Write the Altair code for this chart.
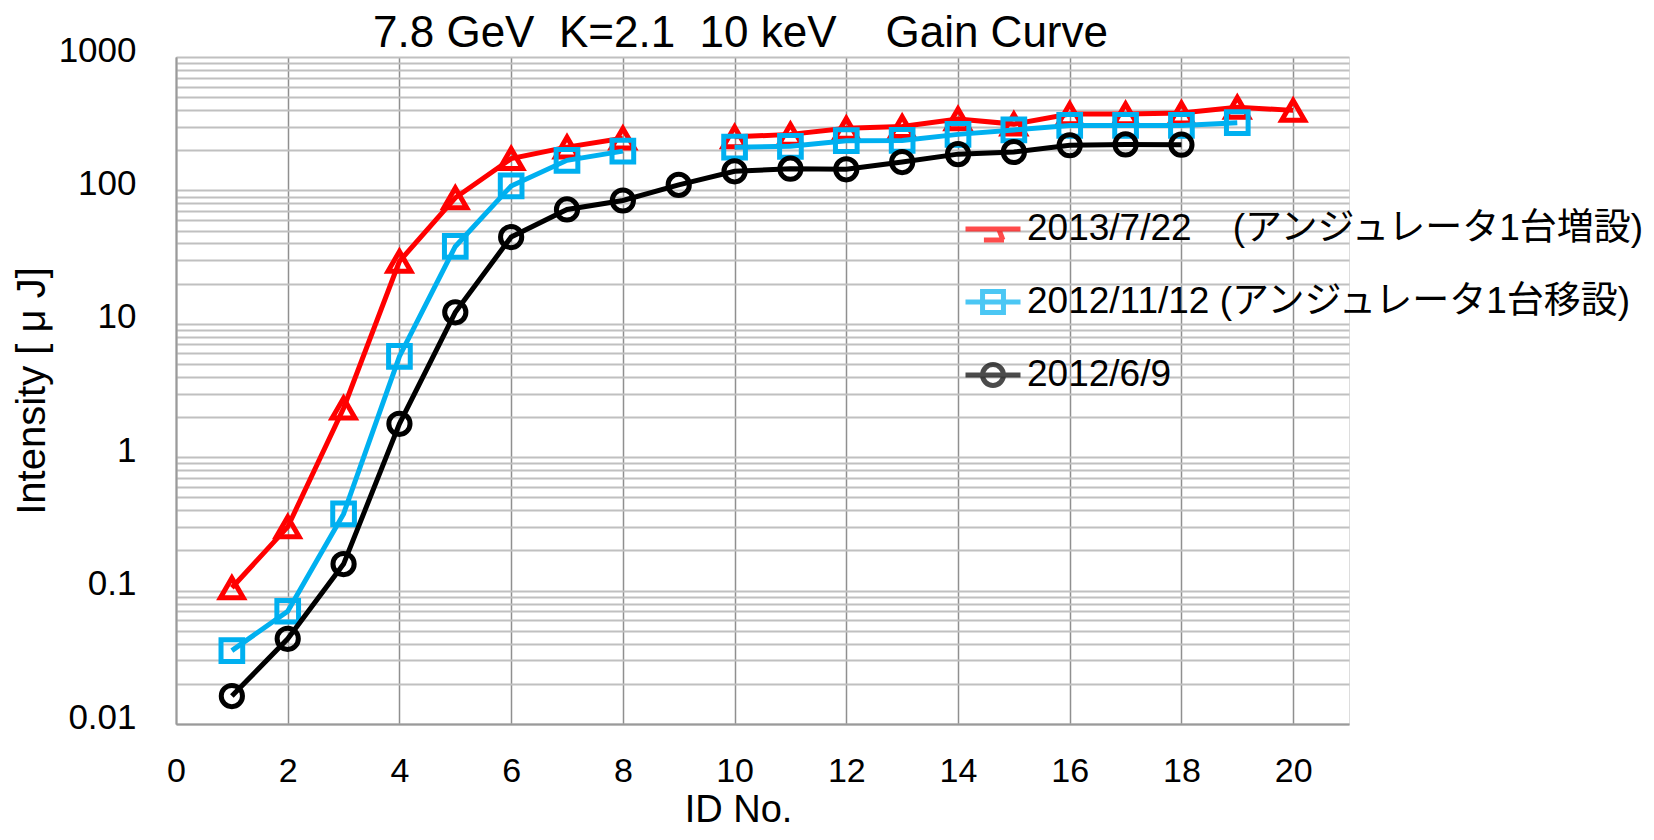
import altair as alt
import pandas as pd
import numpy as np

# ---------------- data ----------------
ids = list(range(1, 21))
series_names = [
    "2013/7/22\u00a0\u00a0\u00a0\u00a0(アンジュレータ1台増設)",
    "2012/11/12\u00a0(アンジュレータ1台移設)",
    "2012/6/9",
]
series_colors = ["#FF0000", "#00B0F0", "#000000"]
series_shapes = ["triangle-up", "square", "circle"]
series_sizes = [520, 470, 450]

red_2013_07_22 = [0.105, 0.30, 2.33, 29.4, 88, 173, 211, 246, None, 252,
                  263, 292, 301, 343, 314, 374, 374, 380, 420, 398]
blue_2012_11_12 = [0.0355, 0.070, 0.376, 5.7, 38, 108, 168, 197, None, 211,
                   214, 236, 237, 263, 284, 307, 307, 307, 322, None]
black_2012_06_09 = [0.0162, 0.0435, 0.158, 1.78, 12.2, 44.7, 72, 84, 110, 139,
                    145.5, 144, 163, 187, 194, 218, 221, 220, None, None]
series_values = [red_2013_07_22, blue_2012_11_12, black_2012_06_09]

x_ticks = [0, 2, 4, 6, 8, 10, 12, 14, 16, 18, 20]
y_major = [0.01, 0.1, 1, 10, 100, 1000]
y_grid = sorted(set([round(m * d, 6) for d in y_major[:-1] for m in range(1, 10)] + [1000]))

# legend symbols (line stub + marker outline, unit coordinates)
legend_paths = [
    "M-1,0H1M0.21,0L0.36,0.4M-0.33,0.4H0.4",
    "M-1,0H1M-0.38,-0.38H0.38V0.38H-0.38Z",
    "M-1,0H1M0.38,0A0.38,0.38,0,1,1,-0.38,0A0.38,0.38,0,1,1,0.38,0Z",
]

# ---------------- long table ----------------
rows = []
for name, vals in zip(series_names, series_values):
    seg = 0
    for i, v in zip(ids, vals):
        if v is None:
            seg += 1
            continue
        rows.append({"id": i, "value": v, "series": name, "seg": seg})
df = pd.DataFrame(rows)

FONT = "Liberation Sans, Arial, Noto Sans CJK JP"

x_enc = alt.X(
    "id:Q",
    scale=alt.Scale(domain=[0, 21], nice=False, zero=False),
    axis=alt.Axis(
        values=x_ticks, grid=True, gridColor="#8f8f8f", gridWidth=1.5,
        ticks=False, domainColor="#9a9a9a", domainWidth=2,
        labelFontSize=34, labelPadding=30, labelFont=FONT, labelColor="#000",
        labelFlush=False,
        title="ID No.", titleFontSize=38, titleFont=FONT, titleFontWeight="normal",
        titleColor="#000", titlePadding=3, titleX=562,
    ),
)
y_enc = alt.Y(
    "value:Q",
    scale=alt.Scale(type="log", domain=[0.01, 1000], nice=False),
    axis=alt.Axis(
        values=y_grid, grid=True, gridColor="#c0c0c0", gridWidth=2,
        ticks=False, domainColor="#9a9a9a", domainWidth=2,
        labelExpr="abs(log(datum.value)/LN10 - round(log(datum.value)/LN10)) < 0.000001 ? format(datum.value, '~g') : ''",
        labelOverlap=False, labelFontSize=35, labelPadding=40, labelOffset=-7,
        labelFont=FONT, labelColor="#000",
        title="Intensity [ \u03bc J]", titleFontSize=40, titleFont=FONT,
        titleFontWeight="normal", titleColor="#000", titlePadding=6,
    ),
)

layers = []
for name, col, shp, sz in zip(series_names, series_colors, series_shapes, series_sizes):
    base = alt.Chart(df).transform_filter(alt.datum.series == name)
    line = base.mark_line(color=col, strokeWidth=5).encode(
        x=x_enc, y=y_enc, detail="seg:N"
    )
    pts = base.mark_point(
        shape=shp, size=sz, filled=False, strokeWidth=5, color=col, opacity=1
    ).encode(x=x_enc, y=y_enc)
    layers += [line, pts]

legend_props = dict(
    orient="none", legendX=787, legendY=142, title=None,
    symbolSize=3025, symbolStrokeWidth=5, labelFontSize=37, labelFont=FONT,
    labelColor="#000", labelLimit=1200, rowPadding=22, padding=0,
    labelOffset=4,
)
legend_layer = alt.Chart(df).transform_filter("false").mark_point(
    filled=False, strokeWidth=5
).encode(
    color=alt.Color(
        "series:N",
        scale=alt.Scale(domain=series_names, range=series_colors),
        legend=alt.Legend(**legend_props),
    ),
    shape=alt.Shape(
        "series:N",
        scale=alt.Scale(domain=series_names, range=legend_paths),
        legend=alt.Legend(**legend_props),
    ),
)
layers.append(legend_layer)

chart = alt.layer(*layers).properties(
    width=1173,
    height=667,
    title=alt.TitleParams(
        text="7.8\u00a0GeV\u00a0\u00a0K=2.1\u00a0\u00a010\u00a0keV\u00a0\u00a0\u00a0\u00a0Gain\u00a0Curve",
        fontSize=44, font=FONT, fontWeight="normal", color="#000",
        anchor="middle", dx=-22, offset=6, dy=29,
    ),
    autosize=alt.AutoSizeParams(type="none"),
    padding={"left": 168, "top": 49, "right": 297, "bottom": 108},
).configure_view(stroke=None).configure(background="white")

chart.save("out.html", embed_options={"renderer": "svg", "actions": False})
